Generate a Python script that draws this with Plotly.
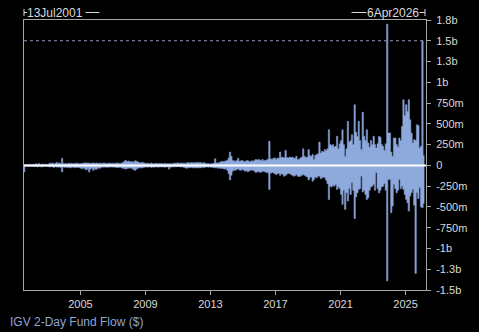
import pandas as pd
import plotly.graph_objects as go

# Monthly peak 2-day inflows / outflows in $ millions, Jul 2001 .. Feb 2026
inflow_peak = (
    [8, 12, 6, 10, 15, 8] +
    [10, 15, 8, 20, 12, 22, 10, 14, 18, 9, 15, 12] +
    [15, 28, 20, 30, 18, 22, 35, 25, 30, 20, 85, 22] +
    [20, 25, 18, 28, 22, 25, 20, 26, 22, 28, 24, 20] +
    [25, 22, 30, 28, 32, 26, 30, 24, 28, 30, 25, 28] +
    [28, 24, 30, 22, 26, 30, 25, 22, 26, 28, 24, 26] +
    [25, 22, 28, 30, 26, 24, 28, 35, 50, 60, 45, 52] +
    [48, 40, 45, 38, 55, 50, 42, 35, 30, 38, 32, 28] +
    [22, 28, 20, 25, 28, 22, 20, 26, 24, 20, 25, 22] +
    [22, 20, 25, 18, 22, 20, 24, 18, 22, 28, 25, 30] +
    [28, 25, 30, 26, 28, 24, 30, 35, 28, 32, 35, 30] +
    [35, 30, 38, 32, 35, 30, 28, 32, 25, 20, 22, 18] +
    [20, 22, 25, 80, 30, 28, 35, 40, 50, 45, 48, 55] +
    [60, 90, 160, 110, 60, 55, 50, 60, 85, 50, 55, 60] +
    [50, 45, 55, 60, 50, 45, 55, 50, 60, 70, 65, 70] +
    [65, 60, 70, 55, 60, 65, 75, 290, 80, 70, 85, 90] +
    [70, 90, 85, 160, 95, 100, 90, 180, 95, 90, 100, 95] +
    [100, 90, 85, 110, 70, 75, 90, 100, 200, 110, 95, 100] +
    [190, 120, 110, 130, 70, 120, 130, 140, 280, 150, 170, 160] +
    [190, 180, 200, 430, 250, 240, 250, 220, 230, 350, 200, 260] +
    [300, 430, 250, 110, 200, 530, 280, 300, 370, 250, 730, 400] +
    [350, 530, 300, 190, 640, 350, 300, 430, 270, 220, 300, 250] +
    [350, 250, 210, 260, 350, 340, 250, 230, 180, 260, 1700, 390] +
    [390, 160, 110, 330, 330, 250, 220, 330, 300, 470, 790, 600] +
    [730, 650, 790, 550, 390, 270, 310, 300, 490, 480, 210, 230] +
    [1500, 120]
)
outflow_peak = (
    [-80, -10, -6, -12, -8, -10] +
    [-12, -8, -15, -10, -18, -9, -12, -20, -10, -14, -8, -12] +
    [-15, -20, -12, -18, -25, -15, -20, -22, -18, -25, -80, -20] +
    [-25, -20, -28, -22, -30, -25, -20, -28, -24, -26, -22, -30] +
    [-35, -40, -30, -45, -55, -40, -80, -45, -35, -60, -40, -50] +
    [-40, -30, -35, -25, -20, -22, -18, -24, -20, -22, -18, -20] +
    [-22, -20, -25, -28, -24, -22, -30, -35, -40, -45, -38, -35] +
    [-30, -35, -40, -55, -60, -45, -35, -30, -28, -32, -25, -22] +
    [-18, -22, -20, -18, -24, -20, -22, -18, -20, -22, -18, -20] +
    [-18, -20, -22, -18, -20, -45, -22, -18, -20, -15, -18, -15] +
    [-15, -18, -20, -15, -25, -30, -35, -28, -30, -25, -28, -30] +
    [-28, -30, -32, -28, -30, -25, -22, -28, -20, -18, -22, -20] +
    [-22, -25, -28, -30, -25, -35, -30, -38, -35, -40, -45, -42] +
    [-60, -100, -175, -120, -70, -55, -60, -50, -45, -55, -60, -50] +
    [-55, -70, -65, -75, -70, -60, -55, -60, -70, -85, -80, -75] +
    [-85, -80, -75, -70, -80, -85, -90, -290, -95, -85, -90, -100] +
    [-110, -100, -95, -120, -100, -110, -130, -120, -105, -95, -100, -110] +
    [-120, -130, -125, -110, -130, -135, -130, -120, -110, -120, -130, -140] +
    [-175, -150, -140, -190, -170, -140, -150, -130, -130, -160, -150, -140] +
    [-150, -180, -220, -410, -250, -260, -240, -250, -230, -290, -260, -280] +
    [-350, -470, -300, -530, -330, -430, -280, -350, -210, -300, -640, -380] +
    [-330, -290, -280, -130, -320, -300, -350, -410, -390, -300, -260, -250] +
    [-230, -300, -90, -280, -330, -300, -260, -250, -220, -300, -1390, -170] +
    [-170, -570, -490, -230, -280, -330, -300, -170, -280, -250, -290, -350] +
    [-410, -450, -550, -370, -330, -290, -480, -1300, -330, -400, -270, -500] +
    [-510, -460]
)
start_month = "2001-07-01"
range_start = "2001-07-13"
range_end = "2026-04-06"
last_value = 1500

y_tickvals = [-1500, -1250, -1000, -750, -500, -250, 0, 250, 500, 750, 1000, 1250, 1500, 1750]
y_ticktext = ["-1.5b", "-1.3b", "-1b", "-750m", "-500m", "-250m", "0", "250m", "500m", "750m",
              "1b", "1.3b", "1.5b", "1.8b"]
x_tickyears = [2005, 2009, 2013, 2017, 2021, 2025]

n = len(inflow_peak)
dates = pd.date_range(start_month, periods=n + 1, freq="MS")
pos = inflow_peak + [inflow_peak[-1]]
neg = outflow_peak + [outflow_peak[-1]]

FILL = "#8eaadc"
AXIS = "#a6a6a6"
TXT = "#d9d9d9"
FONT = "Liberation Sans, Arial, sans-serif"

fig = go.Figure()
for ys in (pos, neg):
    fig.add_trace(go.Scatter(
        x=dates, y=ys, mode="lines", line=dict(shape="hv", color="#7d95c6", width=0.6),
        fill="tozeroy", fillcolor=FILL, hoverinfo="skip", showlegend=False))

fig.update_layout(
    width=479, height=332,
    margin=dict(l=24, r=50, t=20, b=42),
    paper_bgcolor="#000000", plot_bgcolor="#000000",
    font=dict(family=FONT, size=11, color=TXT),
    showlegend=False,
)
fig.update_xaxes(
    range=[range_start, range_end], showgrid=False, zeroline=False,
    showline=True, linecolor=AXIS, linewidth=1, mirror=True,
    ticks="outside", ticklen=4, tickcolor=AXIS,
    tickvals=[f"{y}-01-01" for y in x_tickyears], ticktext=[str(y) for y in x_tickyears],
    tickfont=dict(size=11, color=TXT),
)
fig.update_yaxes(
    range=[-1500, 1750], side="right", showgrid=False, zeroline=False,
    showline=True, linecolor=AXIS, linewidth=1, mirror=True,
    ticks="outside", ticklen=4, tickcolor=AXIS, ticklabelstandoff=3,
    tickvals=y_tickvals, ticktext=y_ticktext, tickfont=dict(size=11, color=TXT),
)

W, H = 405.0, 270.0
def px(x):
    return (x - 24) / W
def py(y):
    return (290 - y) / H

shapes = [
    dict(type="line", xref="paper", yref="y", x0=0, x1=1, y0=last_value, y1=last_value,
         line=dict(color="#8f9bb8", width=1, dash="3px,3px"), layer="above"),
    dict(type="line", xref="paper", yref="y", x0=0, x1=1, y0=0, y1=0,
         line=dict(color="#ffffff", width=2), layer="above"),
    # top-left range marker
    dict(type="line", xref="paper", yref="paper", x0=px(24), x1=px(24), y0=py(9), y1=py(16),
         line=dict(color=TXT, width=1)),
    dict(type="line", xref="paper", yref="paper", x0=px(24), x1=px(27), y0=py(12.5), y1=py(12.5),
         line=dict(color=TXT, width=1)),
    dict(type="line", xref="paper", yref="paper", x0=px(86), x1=px(100), y0=py(12.5), y1=py(12.5),
         line=dict(color=TXT, width=1)),
    # top-right range marker
    dict(type="line", xref="paper", yref="paper", x0=px(354), x1=px(369), y0=py(12.5), y1=py(12.5),
         line=dict(color=TXT, width=1)),
    dict(type="line", xref="paper", yref="paper", x0=px(422.5), x1=px(428), y0=py(12.5), y1=py(12.5),
         line=dict(color=TXT, width=1)),
    dict(type="line", xref="paper", yref="paper", x0=px(428), x1=px(428), y0=py(9), y1=py(16),
         line=dict(color=TXT, width=1)),
]
fig.update_layout(shapes=shapes)

fig.add_annotation(text="13Jul2001", xref="paper", yref="paper", x=px(27), y=py(12.5),
                   xanchor="left", yanchor="middle", showarrow=False,
                   font=dict(size=12, color=TXT), borderpad=0, xshift=-1)
fig.add_annotation(text="6Apr2026", xref="paper", yref="paper", x=px(422), y=py(12.5),
                   xanchor="right", yanchor="middle", showarrow=False,
                   font=dict(size=12, color=TXT), borderpad=0, xshift=1)
fig.add_annotation(text="IGV 2-Day Fund Flow ($)", xref="paper", yref="paper", x=px(9), y=py(322),
                   xanchor="left", yanchor="middle", showarrow=False,
                   font=dict(size=12, color="#8ea5d6"), borderpad=0)

fig.write_html("out.html")
